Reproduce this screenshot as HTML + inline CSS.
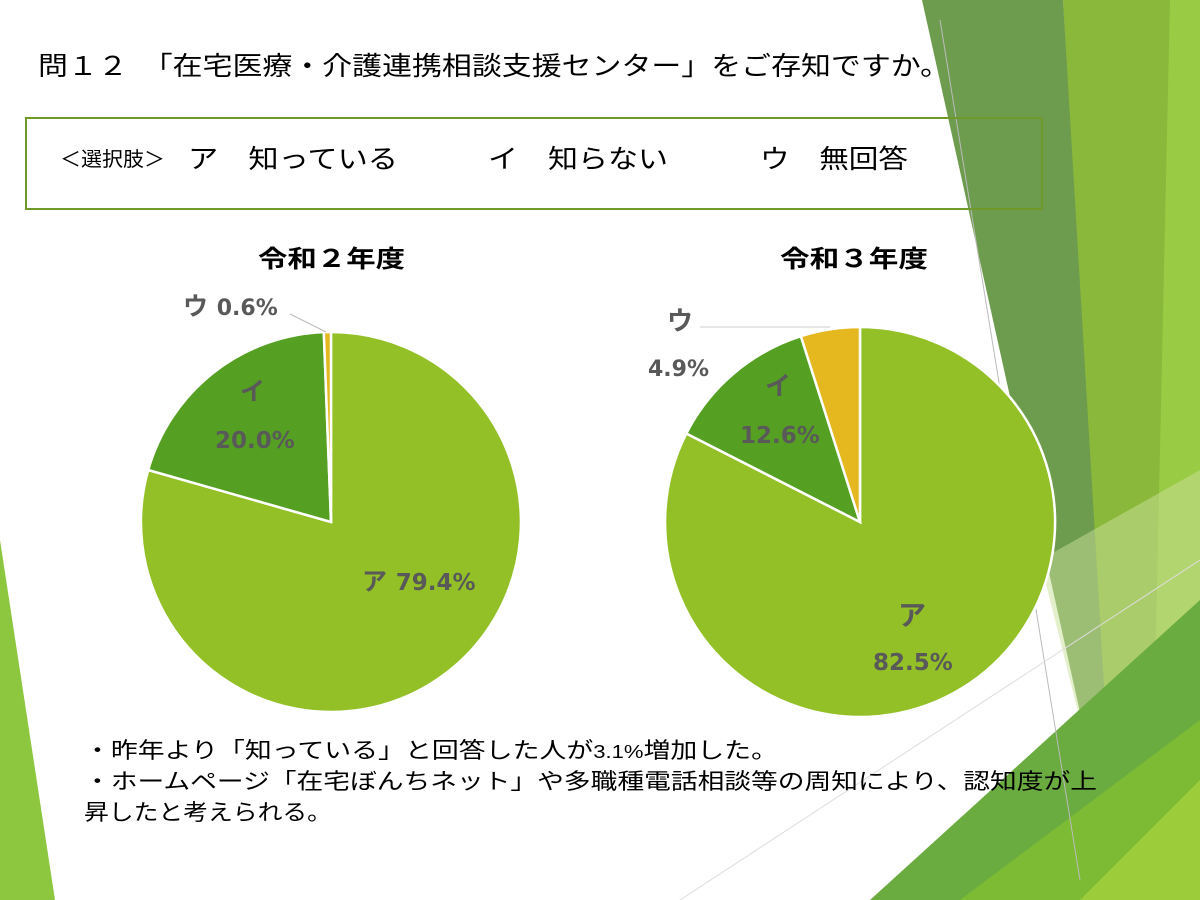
<!DOCTYPE html>
<html><head><meta charset="utf-8"><style>
body{margin:0;width:1200px;height:900px;overflow:hidden;background:#fff;font-family:"Liberation Sans","Noto Sans CJK JP",sans-serif}
svg{position:absolute;left:0;top:0}
</style></head><body>
<svg width="1200" height="900" viewBox="0 0 1200 900" font-family="Liberation Sans, Noto Sans CJK JP, sans-serif">
<polygon points="0,540 55,900 0,900" fill="#8dc63f"/>
<polygon points="1063,0 1200,0 1200,900 1110,900" fill="#8ab83a"/>
<polygon points="1170,0 1200,0 1200,900 1150,900" fill="#9acb45"/>
<polygon points="922,0 1063,0 1115,870" fill="#6e9c4e"/>
<polygon points="1040,560 1200,470 1200,620 1080,720" fill="#c9e09a" opacity="0.5"/>
<polygon points="870,900 1200,600 1200,900" fill="#6aac3f"/>
<polygon points="960,900 1200,720 1200,900" fill="#7dbb35"/>
<polygon points="1080,900 1200,780 1200,900" fill="#9ccc3a"/>
<line x1="940" y1="20" x2="1080" y2="880" stroke="#bbb" stroke-width="1"/>
<line x1="680" y1="900" x2="1200" y2="560" stroke="#ddd" stroke-width="1"/>

<text x="38" y="75" font-size="26" fill="#000" textLength="912" lengthAdjust="spacingAndGlyphs">問１２　「在宅医療・介護連携相談支援センター」をご存知ですか。</text>
<rect x="26" y="118" width="1016" height="91" fill="none" stroke="#6f9a2a" stroke-width="2"/>
<text x="60" y="166" font-size="20" fill="#000" textLength="105" lengthAdjust="spacingAndGlyphs">＜選択肢＞</text>
<text x="188" y="168" font-size="26" fill="#000" textLength="210" lengthAdjust="spacingAndGlyphs">ア　知っている</text>
<text x="488" y="168" font-size="26" fill="#000" textLength="180" lengthAdjust="spacingAndGlyphs">イ　知らない</text>
<text x="760" y="168" font-size="26" fill="#000" textLength="148" lengthAdjust="spacingAndGlyphs">ウ　無回答</text>

<text x="258" y="267" font-size="24" font-weight="bold" textLength="147" lengthAdjust="spacingAndGlyphs">令和２年度</text>
<text x="780" y="267" font-size="24" font-weight="bold" textLength="148" lengthAdjust="spacingAndGlyphs">令和３年度</text>

<g stroke="#fff" stroke-width="2.5">
<path d="M331,522 L331,332 A190,190 0 1 1 148.2,470 Z" fill="#92c026"/>
<path d="M331,522 L148.2,470 A190,190 0 0 1 323.8,332.1 Z" fill="#55a022"/>
<path d="M331,522 L323.8,332.1 A190,190 0 0 1 331,332 Z" fill="#e6b820"/>
</g>
<line x1="290" y1="314" x2="326" y2="332" stroke="#bbb"/>
<g fill="#595959" font-weight="bold" font-family="DejaVu Sans, Noto Sans CJK JP, sans-serif">
<text x="183" y="315" font-size="25">ウ <tspan font-size="22">0.6%</tspan></text>
<text x="240" y="400" font-size="25">イ</text>
<text x="215" y="448" font-size="23">20.0%</text>
<text x="362" y="590" font-size="25">ア <tspan font-size="23">79.4%</tspan></text>
</g>
<g stroke="#fff" stroke-width="2.5">
<path d="M860,522 L860,327 A195,195 0 1 1 686.3,433.5 Z" fill="#92c026"/>
<path d="M860,522 L686.3,433.5 A195,195 0 0 1 800.9,336.2 Z" fill="#55a022"/>
<path d="M860,522 L800.9,336.2 A195,195 0 0 1 860,327 Z" fill="#e6b820"/>
</g>
<line x1="700" y1="327" x2="830" y2="327" stroke="#ccc"/>
<g fill="#595959" font-weight="bold" font-family="DejaVu Sans, Noto Sans CJK JP, sans-serif">
<text x="667" y="330" font-size="26">ウ</text>
<text x="648" y="376" font-size="22">4.9%</text>
<text x="765" y="395" font-size="26">イ</text>
<text x="740" y="443" font-size="23">12.6%</text>
<text x="898" y="625" font-size="28">ア</text>
<text x="873" y="670" font-size="23">82.5%</text>
</g>

<g font-size="22" fill="#000">
<text x="84" y="758" textLength="694" lengthAdjust="spacingAndGlyphs">・昨年より「知っている」と回答した人が<tspan font-size="18">3.1%</tspan>増加した。</text>
<text x="84" y="789" textLength="1013" lengthAdjust="spacingAndGlyphs">・ホームページ「在宅ぼんちネット」や多職種電話相談等の周知により、認知度が上</text>
<text x="84" y="820" textLength="248" lengthAdjust="spacingAndGlyphs">昇したと考えられる。</text>
</g>
</svg>
</body></html>
